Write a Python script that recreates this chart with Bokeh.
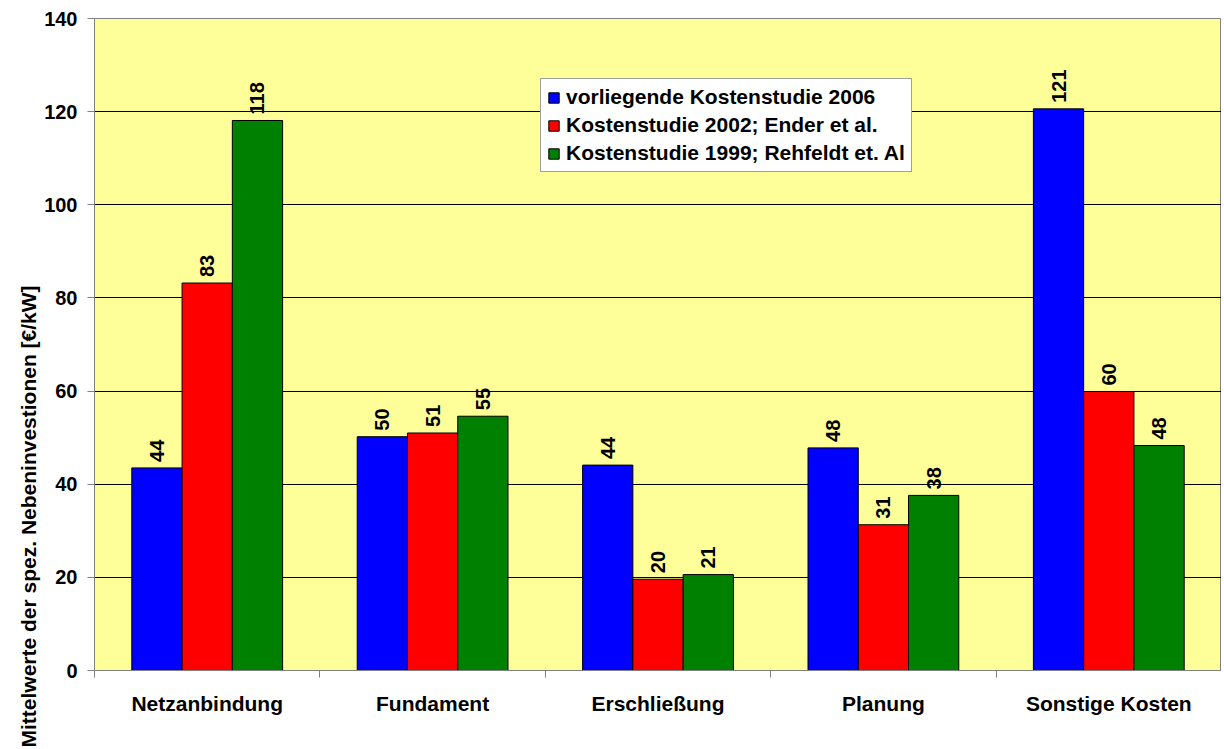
import math
from bokeh.plotting import figure
from bokeh.models import ColumnDataSource, FixedTicker, Legend, LegendItem, Range1d, Title
from bokeh.core.properties import value
from bokeh.transform import dodge
from bokeh.embed import file_html
from bokeh.resources import INLINE

categories = ["Netzanbindung", "Fundament", "Erschließung", "Planung", "Sonstige Kosten"]
series_names = ["vorliegende Kostenstudie 2006",
                "Kostenstudie 2002; Ender et al.",
                "Kostenstudie 1999; Rehfeldt et. Al"]
values_2006 = [43.5, 50.2, 44.1, 47.8, 120.6]
values_2002 = [83.2, 51.0, 19.6, 31.3, 59.9]
values_1999 = [118.1, 54.6, 20.6, 37.6, 48.3]
y_ticks = [0, 20, 40, 60, 80, 100, 120, 140]
y_title = "Mittelwerte der spez. Nebeninvestionen [€/kW]"
colors = ["#0000FF", "#FF0000", "#008000"]

FONT = "Liberation Sans"
BAR_W = 0.223

n = len(categories)
centers = [i + 0.5 for i in range(n)]

p = figure(width=1221, height=748,
           x_range=Range1d(0, n), y_range=Range1d(0, 140),
           output_backend="svg", toolbar_location=None,
           min_border_left=94, min_border_top=18,
           min_border_right=0, min_border_bottom=78)

p.background_fill_color = "#FFFF99"
p.border_fill_color = "white"
p.outline_line_color = "#808080"
p.outline_line_width = 1

# y axis
p.yaxis.ticker = FixedTicker(ticks=y_ticks)
p.yaxis.axis_line_color = "#808080"
p.yaxis.major_tick_line_color = "#808080"
p.yaxis.major_tick_out = 7
p.yaxis.major_tick_in = 0
p.yaxis.minor_tick_line_color = None
p.yaxis.major_label_standoff = 10
p.yaxis.major_label_text_font = FONT
p.yaxis.major_label_text_font_style = "bold"
p.yaxis.major_label_text_font_size = "20px"
p.yaxis.major_label_text_color = "black"

# y axis title, placed low as in the original
ytitle = Title(text=y_title, align="left", offset=-77, vertical_align="top",
               standoff=0, text_font=FONT, text_font_style="bold",
               text_font_size="21px", text_color="black")
p.add_layout(ytitle, "left")

# x axis
p.xaxis.ticker = FixedTicker(ticks=centers, minor_ticks=list(range(n + 1)))
p.xaxis.major_label_overrides = {c: cat for c, cat in zip(centers, categories)}
p.xaxis.axis_line_color = "#808080"
p.xaxis.major_tick_line_color = None
p.xaxis.major_tick_out = 0
p.xaxis.major_tick_in = 0
p.xaxis.minor_tick_line_color = "#808080"
p.xaxis.minor_tick_out = 7
p.xaxis.minor_tick_in = 0
p.xaxis.major_label_standoff = 14
p.xaxis.major_label_text_font = FONT
p.xaxis.major_label_text_font_style = "bold"
p.xaxis.major_label_text_font_size = "21px"
p.xaxis.major_label_text_color = "black"

p.xgrid.grid_line_color = None
p.ygrid.grid_line_color = "black"
p.ygrid.grid_line_width = 1

source = ColumnDataSource(dict(
    x=centers,
    v2006=values_2006, v2002=values_2002, v1999=values_1999,
    l2006=[str(math.floor(v + 0.5)) for v in values_2006],
    l2002=[str(math.floor(v + 0.5)) for v in values_2002],
    l1999=[str(math.floor(v + 0.5)) for v in values_1999],
))

items = []
for j, (key, name, col) in enumerate(zip(["2006", "2002", "1999"], series_names, colors)):
    off = (j - 1) * BAR_W
    r = p.vbar(x=dodge("x", off), top="v" + key, width=BAR_W, source=source,
               fill_color=col, line_color="black", line_width=1)
    p.text(x=dodge("x", off), y="v" + key, text="l" + key, source=source,
           angle=math.pi / 2, text_align="left", text_baseline="middle",
           y_offset=-6, text_font=value(FONT), text_font_style="bold",
           text_font_size="20px", text_color="black")
    items.append(LegendItem(label=name, renderers=[r]))

legend = Legend(items=items, location=(446, 498))
legend.label_text_font = FONT
legend.label_text_font_style = "bold"
legend.label_text_font_size = "21px"
legend.label_text_color = "black"
legend.label_height = 21
legend.glyph_height = 13
legend.glyph_width = 13
legend.spacing = 4
legend.padding = 6
legend.margin = 0
legend.label_standoff = 6
legend.border_line_color = "#404040"
legend.border_line_width = 1
legend.background_fill_color = "white"
legend.background_fill_alpha = 1.0
p.add_layout(legend)

open("out.html", "w").write(file_html(p, INLINE))
